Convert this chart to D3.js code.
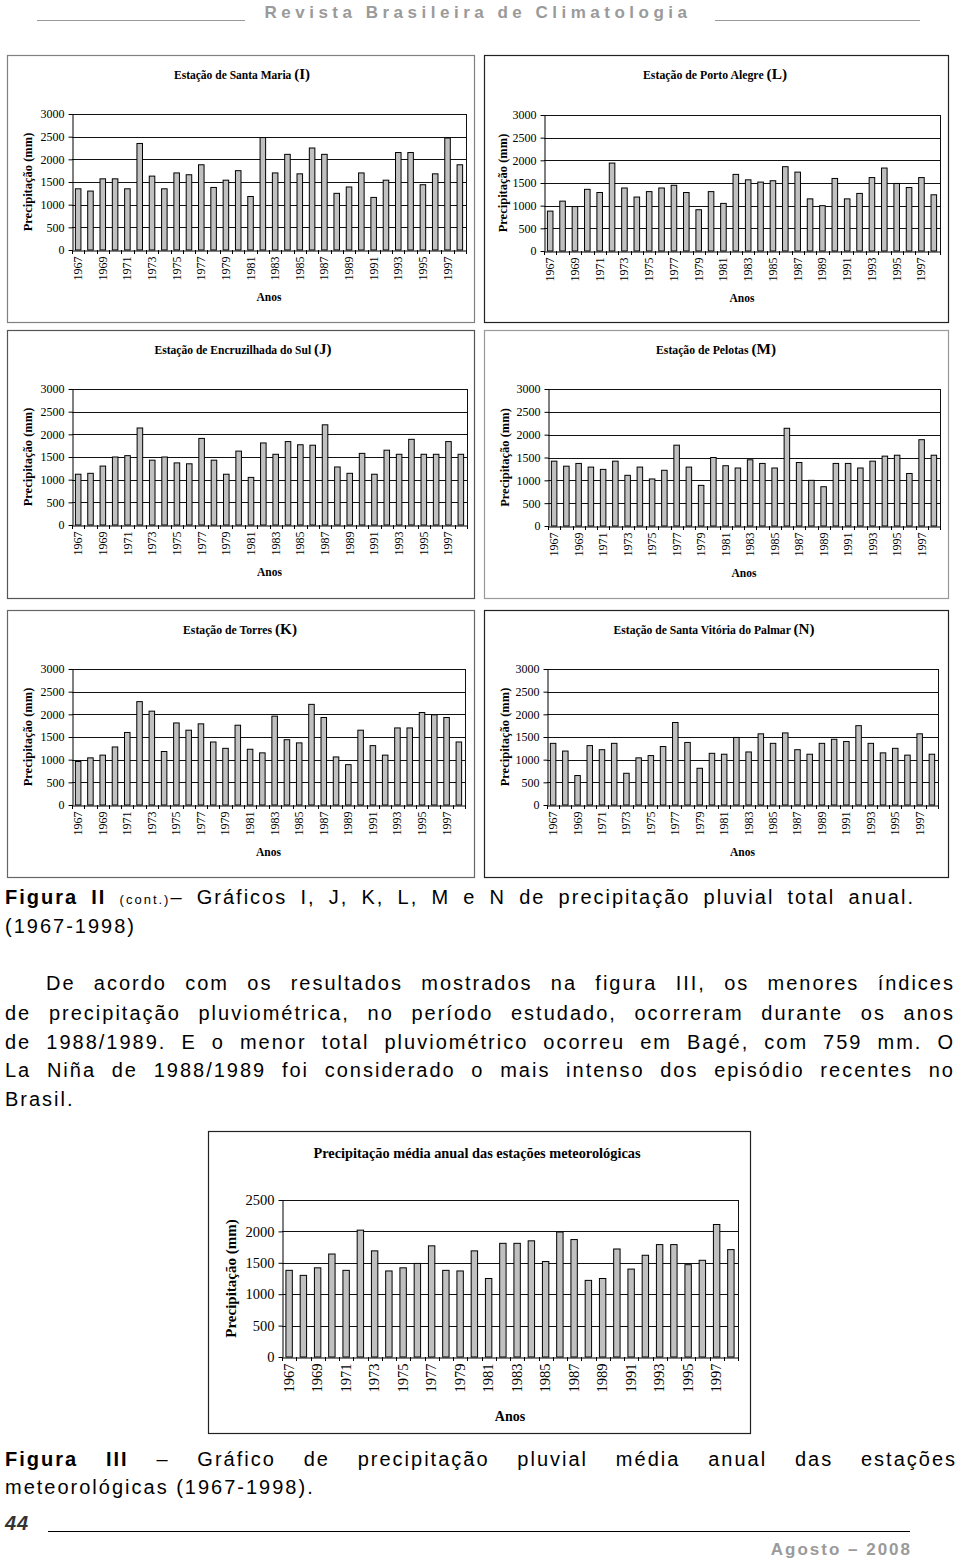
<!DOCTYPE html>
<html><head><meta charset="utf-8">
<script src="https://cdn.jsdelivr.net/npm/d3@7"></script>
<style>body{margin:0;background:#fff} svg{display:block}</style>
</head><body><svg id="page" width="960" height="1561"></svg>
<script>
const years = [1967,1968,1969,1970,1971,1972,1973,1974,1975,1976,1977,1978,1979,1980,1981,1982,
               1983,1984,1985,1986,1987,1988,1989,1990,1991,1992,1993,1994,1995,1996,1997,1998];
const yearLabels = [1967,1969,1971,1973,1975,1977,1979,1981,1983,1985,1987,1989,1991,1993,1995,1997];
const yTicksStation = [0,500,1000,1500,2000,2500,3000];
const yTicksMean = [0,500,1000,1500,2000,2500];

const santaMaria = [1350,1300,1570,1570,1350,2350,1630,1350,1700,1660,1880,1380,1540,1750,1180,2480,
                    1700,2110,1680,2250,2110,1250,1390,1700,1160,1540,2150,2150,1440,1680,2470,1880];
const portoAlegre = [880,1100,980,1360,1290,1940,1390,1190,1310,1390,1450,1290,910,1310,1050,1690,
                     1570,1520,1550,1860,1740,1150,1000,1600,1150,1270,1620,1830,1490,1400,1620,1240];
const encruzilhada = [1120,1140,1300,1500,1530,2140,1430,1500,1370,1350,1910,1430,1120,1630,1050,1810,
                      1560,1840,1770,1760,2210,1280,1140,1580,1120,1650,1560,1890,1560,1560,1840,1560];
const pelotas = [1420,1310,1370,1290,1240,1420,1110,1290,1030,1220,1770,1290,890,1500,1320,1270,
                 1450,1370,1270,2140,1390,1000,860,1370,1370,1270,1420,1530,1550,1150,1890,1550];
const torres = [960,1040,1100,1280,1600,2280,2070,1180,1810,1650,1790,1390,1250,1760,1230,1150,
                1960,1440,1370,2220,1930,1060,890,1650,1310,1100,1700,1700,2040,1990,1930,1390];
const santaVitoria = [1360,1190,650,1310,1220,1360,700,1040,1090,1290,1820,1380,810,1140,1120,1490,
                      1170,1570,1360,1590,1220,1120,1360,1450,1400,1750,1360,1150,1250,1100,1570,1120];
const mediaAnual = [1380,1300,1420,1640,1380,2020,1690,1370,1420,1490,1770,1380,1370,1690,1250,1810,
                    1810,1850,1520,1990,1870,1220,1250,1720,1400,1620,1790,1790,1470,1540,2110,1710];

const SERIF = "'Liberation Serif','Times New Roman',serif";
const SANS = "'Liberation Sans',Arial,Helvetica,sans-serif";
const svg = d3.select("#page");

function drawChart(c) {
  const g = svg.append("g");
  g.append("rect")
    .attr("x", c.box[0] + 0.5).attr("y", c.box[1] + 0.5)
    .attr("width", c.box[2] - c.box[0]).attr("height", c.box[3] - c.box[1])
    .attr("fill", "none").attr("stroke", c.boxColor).attr("stroke-width", c.boxW || 1.2);

  const x = d3.scaleBand().domain(years).range([c.L, c.R]).paddingInner(0.55).paddingOuter(0.275);
  const y = d3.scaleLinear().domain([0, c.max]).range([c.B, c.T]);
  const step = x.step(), gap = step - x.bandwidth();

  g.append("g").selectAll("line").data(c.ticks.filter(t => t > 0)).join("line")
    .attr("x1", c.L).attr("x2", c.R)
    .attr("y1", d => Math.round(y(d)) + 0.5).attr("y2", d => Math.round(y(d)) + 0.5)
    .attr("stroke", "#111").attr("stroke-width", 1);
  g.append("line").attr("x1", c.R + 0.5).attr("x2", c.R + 0.5)
    .attr("y1", c.T).attr("y2", c.B).attr("stroke", "#111");

  g.append("g").selectAll("rect").data(c.data).join("rect")
    .attr("x", (d, i) => x(years[i]))
    .attr("y", d => y(d))
    .attr("width", x.bandwidth())
    .attr("height", d => y(0) - y(d))
    .attr("fill", "#c0c0c0").attr("stroke", "#000").attr("stroke-width", 1);

  const ya = g.append("g").attr("transform", `translate(${c.L + 0.5},0)`)
    .call(d3.axisLeft(y).tickValues(c.ticks).tickFormat(d3.format("d"))
      .tickSize(4).tickSizeOuter(0).tickPadding(4));
  ya.select(".domain").attr("stroke", "#000");
  ya.selectAll(".tick line").attr("stroke", "#000");
  ya.selectAll("text").attr("font-family", SERIF).attr("font-size", c.fs).attr("fill", "#000");

  const xa = g.append("g").attr("transform", `translate(0,${c.B + 0.5})`)
    .call(d3.axisBottom(x).tickValues(yearLabels).tickFormat(d3.format("d")).tickSize(0).tickSizeOuter(0));
  xa.select(".domain").attr("stroke", "#000");
  xa.selectAll("text")
    .attr("font-family", SERIF).attr("font-size", c.fs).attr("fill", "#000")
    .attr("y", 0).attr("dy", "0.33em").attr("x", 0)
    .attr("text-anchor", "end")
    .attr("transform", `translate(0,${c.yearGap}) rotate(-90)`);
  g.append("g").selectAll("line").data(years).join("line")
    .attr("x1", d => Math.round(x(d) - gap / 2) + 0.5)
    .attr("x2", d => Math.round(x(d) - gap / 2) + 0.5)
    .attr("y1", c.B).attr("y2", c.B + 4).attr("stroke", "#000");
  g.append("line").attr("x1", c.R + 0.5).attr("x2", c.R + 0.5)
    .attr("y1", c.B).attr("y2", c.B + 4).attr("stroke", "#000");

  const t = g.append("text").attr("x", c.titleX).attr("y", c.titleY)
    .attr("text-anchor", "middle").attr("font-family", SERIF).attr("font-weight", "bold")
    .attr("font-size", c.titleFs);
  t.append("tspan").text(c.title);
  if (c.titleTag) t.append("tspan").attr("font-size", c.titleFs * 1.3).text(c.titleTag);
  if (c.titleW) t.attr("textLength", c.titleW).attr("lengthAdjust", "spacingAndGlyphs");

  g.append("text")
    .attr("transform", `translate(${c.ylabX},${(c.T + c.B) / 2}) rotate(-90)`)
    .attr("text-anchor", "middle").attr("dy", "0.35em")
    .attr("font-family", SERIF).attr("font-weight", "bold").attr("font-size", c.ylabFs)
    .text("Precipitação (mm)");

  g.append("text").attr("x", (c.L + c.R) / 2).attr("y", c.anosY)
    .attr("text-anchor", "middle").attr("font-family", SERIF).attr("font-weight", "bold")
    .attr("font-size", c.anosFs).text("Anos");
}

const stations = [
  {data: santaMaria, title: "Estação de Santa Maria ", titleTag: "(I)", box: [7,55,474,322], L: 72, R: 466, T: 114, B: 250, titleX: 242, titleW: 136, ylabX: 28, boxColor: "#808080"},
  {data: portoAlegre, title: "Estação de Porto Alegre ", titleTag: "(L)", box: [484,55,948,322], L: 544, R: 940, T: 115, B: 251, titleX: 715, titleW: 144, ylabX: 503, boxColor: "#222"},
  {data: encruzilhada, title: "Estação de Encruzilhada do Sul ", titleTag: "(J)", box: [7,330,474,598], L: 72, R: 467, T: 389, B: 525, titleX: 243, titleW: 177, ylabX: 28, boxColor: "#555"},
  {data: pelotas, title: "Estação de Pelotas ", titleTag: "(M)", box: [484,330,948,598], L: 548, R: 940, T: 389, B: 526, titleX: 716, titleW: 120, ylabX: 505, boxColor: "#999"},
  {data: torres, title: "Estação de Torres ", titleTag: "(K)", box: [7,610,474,877], L: 72, R: 465, T: 669, B: 805, titleX: 240, titleW: 114, ylabX: 28, boxColor: "#666"},
  {data: santaVitoria, title: "Estação de Santa Vitória do Palmar ", titleTag: "(N)", box: [484,610,948,877], L: 547, R: 938, T: 669, B: 805, titleX: 714, titleW: 201, ylabX: 505, boxColor: "#222"}
];
stations.forEach(s => drawChart(Object.assign({
  max: 3000, ticks: yTicksStation, fs: 12, yearGap: 6, titleFs: 11.5, titleY: s.box[1] + 24,
  ylabFs: 12.5, anosFs: 11.5, anosY: s.B + 51
}, s)));

drawChart({data: mediaAnual, title: "Precipitação média anual das estações meteorológicas", titleTag: null,
  box: [208,1131,750,1433], L: 282, R: 738, T: 1200, B: 1357, max: 2500, ticks: yTicksMean,
  fs: 14.5, yearGap: 6, titleFs: 14, titleX: 477, titleY: 1158, titleW: 327, ylabX: 231, ylabFs: 15,
  anosFs: 14, anosY: 1421, boxColor: "#222"});

// ---------- page text ----------
function textLine(parts, x0, y, opts) {
  let ls = opts.ls != null ? opts.ls : 2.0;
  const t = svg.append("text").attr("x", x0).attr("y", y)
    .attr("font-family", opts.family || SANS).attr("font-size", opts.size || 20)
    .attr("fill", opts.fill || "#000")
    .style("letter-spacing", ls + "px");
  parts.forEach(p => {
    const s = t.append("tspan").text(p.t);
    if (p.w) s.attr("font-weight", p.w);
    if (p.s) s.attr("font-size", p.s);
    if (p.i) s.attr("font-style", "italic");
  });
  if (opts.anchor) t.attr("text-anchor", opts.anchor);
  if (opts.x1 != null) {
    const full = parts.map(p => p.t).join("");
    const spaces = full.split(" ").length - 1;
    const width = opts.x1 - x0;
    let len = t.node().getComputedTextLength();
    const minExtra = 2;
    if (len + spaces * minExtra > width) {
      ls = ls - (len + spaces * minExtra - width) / full.length;
      t.style("letter-spacing", ls + "px");
      len = t.node().getComputedTextLength();
    }
    if (spaces > 0) t.style("word-spacing", ((width - len) / spaces) + "px");
  }
  return t;
}

textLine([{t: "Revista Brasileira de Climatologia", w: "bold"}], 478, 18,
  {anchor: "middle", size: 17, fill: "#9a9a9a", ls: 4.5});
svg.append("line").attr("x1", 37).attr("x2", 245).attr("y1", 20.5).attr("y2", 20.5).attr("stroke", "#999");
svg.append("line").attr("x1", 715).attr("x2", 920).attr("y1", 20.5).attr("y2", 20.5).attr("stroke", "#999");

textLine([{t: "Figura II", w: "bold"}, {t: " "}, {t: "(cont.)", s: 13}, {t: "– Gráficos I, J, K, L, M e N de precipitação pluvial total anual."}],
  5, 904, {x1: 915});
textLine([{t: "(1967-1998)"}], 5, 933, {});

const para = [
  {t: "De acordo com os resultados mostrados na figura III, os menores índices", x0: 46, x1: 955, y: 990},
  {t: "de precipitação pluviométrica, no período estudado, ocorreram durante os anos", x0: 5, x1: 955, y: 1020},
  {t: "de 1988/1989. E o menor total pluviométrico ocorreu em Bagé, com 759 mm. O", x0: 5, x1: 955, y: 1049},
  {t: "La Niña de 1988/1989 foi considerado o mais intenso dos episódio recentes no", x0: 5, x1: 955, y: 1077},
  {t: "Brasil.", x0: 5, x1: null, y: 1106}
];
para.forEach(l => textLine([{t: l.t}], l.x0, l.y, {x1: l.x1}));

textLine([{t: "Figura III", w: "bold"}, {t: " – Gráfico de precipitação pluvial média anual das estações"}],
  5, 1466, {x1: 957});
textLine([{t: "meteorológicas (1967-1998)."}], 5, 1494, {});

textLine([{t: "44", w: "bold", i: true}], 5, 1530, {size: 20, fill: "#333", ls: 1});
svg.append("line").attr("x1", 48).attr("x2", 910).attr("y1", 1531.5).attr("y2", 1531.5).attr("stroke", "#000");
textLine([{t: "Agosto – 2008", w: "bold"}], 912, 1555, {anchor: "end", size: 17, fill: "#9a9a9a", ls: 2});
</script>
</body></html>
